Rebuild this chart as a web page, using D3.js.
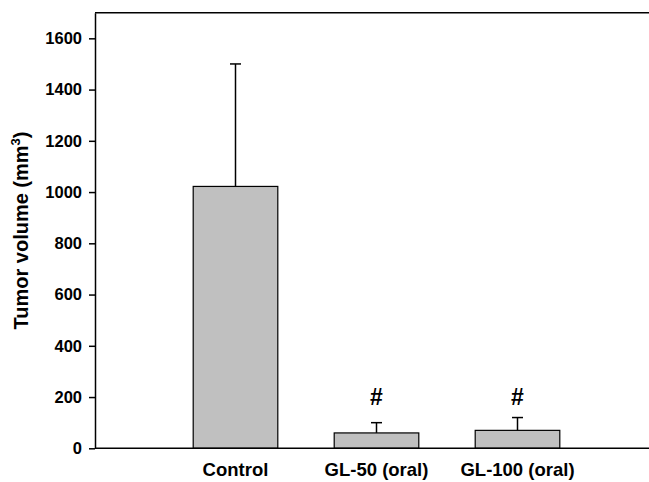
<!DOCTYPE html>
<meta charset="utf-8">
<style>
    body { margin: 0; background: #fff; }
    text { font-family: "Liberation Sans", Arial, sans-serif; font-weight: bold; fill: #000; }
    .axis path, .axis line { stroke: #000; stroke-width: 1.5px; }
</style>
<svg id="chart" width="649" height="482"></svg>
<script src="https://d3js.org/d3.v7.min.js"></script>
<script>

    var groups = ["Control", "GL-50 (oral)", "GL-100 (oral)"];
    var means = [1022, 60, 70];
    var errors = [478, 40, 50];
    var marks = ["", "#", "#"];
    var markLevel = 170;   // "#" signs sit at the same height above both GL bars
    var yTicks = [0, 200, 400, 600, 800, 1000, 1200, 1400, 1600];

    var svg = d3.select("#chart");

    var plotLeft = 95, plotRight = 660, plotTop = 12.7, plotBottom = 448.3;

    var x = d3.scaleBand()
        .domain(groups)
        .range([165, 588])
        .paddingInner(0.4)
        .paddingOuter(0.2);

    var y = d3.scaleLinear()
        .domain([0, 1700])
        .range([plotBottom, plotTop]);

    // frame: top line (right side is cut off in the picture)
    svg.append("line")
        .attr("x1", plotLeft).attr("x2", plotRight)
        .attr("y1", y(1700)).attr("y2", y(1700))
        .style("stroke", "#000").style("stroke-width", 1.5);

    var yAxis = svg.append("g")
        .attr("class", "axis")
        .attr("transform", "translate(" + plotLeft + ",0)")
        .call(d3.axisLeft(y).tickValues(yTicks).tickFormat(d3.format("d"))
            .tickSize(6).tickPadding(7).tickSizeOuter(0));
    yAxis.selectAll("text").style("font-size", "16.5px");

    var bars = svg.append("g");

    bars.selectAll("line.err")
        .data(groups)
        .enter().append("line")
        .attr("class", "err")
        .attr("x1", d => x(d) + x.bandwidth() / 2)
        .attr("x2", d => x(d) + x.bandwidth() / 2)
        .attr("y1", (d, i) => y(means[i]))
        .attr("y2", (d, i) => y(means[i] + errors[i]))
        .style("stroke", "#000").style("stroke-width", 1.5);

    bars.selectAll("line.cap")
        .data(groups)
        .enter().append("line")
        .attr("class", "cap")
        .attr("x1", d => x(d) + x.bandwidth() / 2 - 5.5)
        .attr("x2", d => x(d) + x.bandwidth() / 2 + 5.5)
        .attr("y1", (d, i) => y(means[i] + errors[i]))
        .attr("y2", (d, i) => y(means[i] + errors[i]))
        .style("stroke", "#000").style("stroke-width", 1.5);

    bars.selectAll("rect")
        .data(groups)
        .enter().append("rect")
        .attr("x", d => x(d))
        .attr("width", x.bandwidth())
        .attr("y", (d, i) => y(means[i]))
        .attr("height", (d, i) => y(0) - y(means[i]))
        .style("fill", "#c0c0c0")
        .style("stroke", "#000")
        .style("stroke-width", 1.2);

    bars.selectAll("text.mark")
        .data(groups)
        .enter().append("text")
        .attr("class", "mark")
        .attr("x", d => x(d) + x.bandwidth() / 2)
        .attr("y", y(markLevel))
        .attr("text-anchor", "middle")
        .style("font-size", "23px")
        .text((d, i) => marks[i]);

    // baseline
    svg.append("line")
        .attr("x1", plotLeft).attr("x2", plotRight)
        .attr("y1", y(0)).attr("y2", y(0))
        .style("stroke", "#000").style("stroke-width", 1.5);

    // category labels
    svg.selectAll("text.cat")
        .data(groups)
        .enter().append("text")
        .attr("class", "cat")
        .attr("x", d => x(d) + x.bandwidth() / 2)
        .attr("y", 476)
        .attr("text-anchor", "middle")
        .style("font-size", "18.5px")
        .text(d => d);

    var ylab = svg.append("text")
        .attr("transform", "translate(28," + ((plotTop + plotBottom) / 2) + ") rotate(-90)")
        .attr("text-anchor", "middle")
        .style("font-size", "20px");
    ylab.append("tspan").text("Tumor volume (mm");
    ylab.append("tspan").attr("dy", -8).style("font-size", "13px").text("3");
    ylab.append("tspan").attr("dy", 8).text(")");

</script>
